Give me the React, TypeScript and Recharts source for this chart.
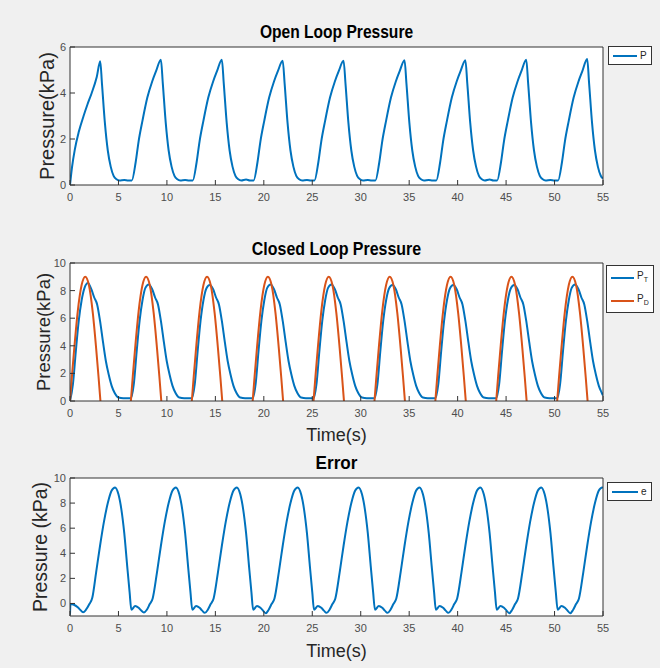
import { Legend, Line, LineChart, XAxis, YAxis, CartesianGrid } from "recharts";

const FONT = '"Liberation Sans", Arial, Helvetica, sans-serif';
const AX = "#333333";
const TICK = "#4d4d4d";
const BLUE = "#0072BD";
const ORANGE = "#D95319";

const xTicks = [0, 5, 10, 15, 20, 25, 30, 35, 40, 45, 50, 55];
const openTicks = [0, 2, 4, 6];
const closedTicks = [0, 2, 4, 6, 8, 10];
const errorTicks = [0, 2, 4, 6, 8, 10];

// Open loop pressure P
const openTime = [
  0, 0.2, 0.5, 0.9, 1.4, 1.8, 2.24, 2.76, 3.12, 3.3, 3.6, 3.9, 4.2, 4.5, 4.8, 5.1, 5.6, 6.0,
  6.38, 6.78, 7.08, 7.48, 7.98, 8.48, 8.88, 9.38, 9.58, 9.88, 10.18, 10.48, 10.78, 11.08, 11.38, 11.88, 12.28,
  12.67, 13.07, 13.37, 13.77, 14.27, 14.77, 15.17, 15.67, 15.87, 16.17, 16.47, 16.77, 17.07, 17.37, 17.67, 18.17, 18.57,
  18.95, 19.35, 19.65, 20.05, 20.55, 21.05, 21.45, 21.95, 22.15, 22.45, 22.75, 23.05, 23.35, 23.65, 23.95, 24.45, 24.85,
  25.23, 25.63, 25.93, 26.33, 26.83, 27.33, 27.73, 28.23, 28.43, 28.73, 29.03, 29.33, 29.63, 29.93, 30.23, 30.73, 31.13,
  31.52, 31.92, 32.22, 32.62, 33.12, 33.62, 34.02, 34.52, 34.72, 35.02, 35.32, 35.62, 35.92, 36.22, 36.52, 37.02, 37.42,
  37.8, 38.2, 38.5, 38.9, 39.4, 39.9, 40.3, 40.8, 41.0, 41.3, 41.6, 41.9, 42.2, 42.5, 42.8, 43.3, 43.7,
  44.08, 44.48, 44.78, 45.18, 45.68, 46.18, 46.58, 47.08, 47.28, 47.58, 47.88, 48.18, 48.48, 48.78, 49.08, 49.58, 49.98,
  50.37, 50.77, 51.07, 51.47, 51.97, 52.47, 52.87, 53.37, 53.57, 53.87, 54.17, 54.47, 54.77, 55.0,
];
const openP = [
  0, 0.75, 1.55, 2.3, 3.0, 3.5, 4.0, 4.7, 5.38, 4.4, 2.7, 1.5, 0.8, 0.4, 0.25, 0.2, 0.22, 0.2,
  0.2, 1.0, 1.9, 2.8, 3.8, 4.5, 4.95, 5.45, 4.4, 2.7, 1.5, 0.8, 0.4, 0.25, 0.2, 0.22, 0.2,
  0.2, 1.0, 1.9, 2.8, 3.8, 4.5, 4.95, 5.45, 4.4, 2.7, 1.5, 0.8, 0.4, 0.25, 0.2, 0.24, 0.2,
  0.2, 1.0, 1.9, 2.8, 3.8, 4.5, 4.95, 5.4, 4.4, 2.7, 1.5, 0.8, 0.4, 0.25, 0.2, 0.22, 0.2,
  0.2, 1.0, 1.9, 2.8, 3.8, 4.5, 4.95, 5.4, 4.4, 2.7, 1.5, 0.8, 0.4, 0.25, 0.2, 0.22, 0.2,
  0.2, 1.0, 1.9, 2.8, 3.8, 4.5, 4.95, 5.42, 4.4, 2.7, 1.5, 0.8, 0.4, 0.25, 0.2, 0.22, 0.2,
  0.2, 1.0, 1.9, 2.8, 3.8, 4.5, 4.95, 5.42, 4.4, 2.7, 1.5, 0.8, 0.4, 0.25, 0.2, 0.24, 0.2,
  0.2, 1.0, 1.9, 2.8, 3.8, 4.5, 4.95, 5.45, 4.4, 2.7, 1.5, 0.8, 0.4, 0.25, 0.2, 0.22, 0.2,
  0.2, 1.0, 1.9, 2.8, 3.8, 4.5, 4.95, 5.48, 4.4, 2.7, 1.5, 0.8, 0.4, 0.28,
];

// Closed loop: tracked pressure P_T
const ptTime = [
  0, 0.3, 0.6, 0.9, 1.2, 1.5, 1.85, 2.2, 2.5, 2.8, 3.1, 3.4, 3.7, 4.0, 4.3, 4.6, 5.0, 5.5, 6.0,
  6.28, 6.58, 6.88, 7.18, 7.48, 7.78, 8.13, 8.48, 8.78, 9.08, 9.38, 9.68, 9.98, 10.28, 10.58, 10.88, 11.28, 11.78, 12.28,
  12.57, 12.87, 13.17, 13.47, 13.77, 14.07, 14.42, 14.77, 15.07, 15.37, 15.67, 15.97, 16.27, 16.57, 16.87, 17.17, 17.57, 18.07, 18.57,
  18.85, 19.15, 19.45, 19.75, 20.05, 20.35, 20.7, 21.05, 21.35, 21.65, 21.95, 22.25, 22.55, 22.85, 23.15, 23.45, 23.85, 24.35, 24.85,
  25.13, 25.43, 25.73, 26.03, 26.33, 26.63, 26.98, 27.33, 27.63, 27.93, 28.23, 28.53, 28.83, 29.13, 29.43, 29.73, 30.13, 30.63, 31.13,
  31.42, 31.72, 32.02, 32.32, 32.62, 32.92, 33.27, 33.62, 33.92, 34.22, 34.52, 34.82, 35.12, 35.42, 35.72, 36.02, 36.42, 36.92, 37.42,
  37.7, 38.0, 38.3, 38.6, 38.9, 39.2, 39.55, 39.9, 40.2, 40.5, 40.8, 41.1, 41.4, 41.7, 42.0, 42.3, 42.7, 43.2, 43.7,
  43.98, 44.28, 44.58, 44.88, 45.18, 45.48, 45.83, 46.18, 46.48, 46.78, 47.08, 47.38, 47.68, 47.98, 48.28, 48.58, 48.98, 49.48, 49.98,
  50.27, 50.57, 50.87, 51.17, 51.47, 51.77, 52.12, 52.47, 52.77, 53.07, 53.37, 53.67, 53.97, 54.27, 54.57, 54.87, 55.0,
];
const ptValue = [
  0, 1.2, 3.6, 5.8, 7.3, 8.2, 8.55, 8.1, 7.5, 7.0, 5.8, 4.3, 2.9, 1.9, 1.1, 0.6, 0.25, 0.2, 0.2,
  0.2, 1.2, 3.6, 5.8, 7.3, 8.2, 8.45, 8.1, 7.5, 7.0, 5.8, 4.3, 2.9, 1.9, 1.1, 0.6, 0.25, 0.2, 0.2,
  0.2, 1.2, 3.6, 5.8, 7.3, 8.15, 8.4, 8.1, 7.5, 7.0, 5.8, 4.3, 2.9, 1.9, 1.1, 0.6, 0.25, 0.2, 0.2,
  0.2, 1.2, 3.6, 5.8, 7.3, 8.2, 8.45, 8.1, 7.5, 7.0, 5.8, 4.3, 2.9, 1.9, 1.1, 0.6, 0.25, 0.2, 0.2,
  0.2, 1.2, 3.6, 5.8, 7.3, 8.2, 8.45, 8.1, 7.5, 7.0, 5.8, 4.3, 2.9, 1.9, 1.1, 0.6, 0.25, 0.2, 0.2,
  0.2, 1.2, 3.6, 5.8, 7.3, 8.15, 8.4, 8.1, 7.5, 7.0, 5.8, 4.3, 2.9, 1.9, 1.1, 0.6, 0.25, 0.2, 0.2,
  0.2, 1.2, 3.6, 5.8, 7.3, 8.15, 8.4, 8.1, 7.5, 7.0, 5.8, 4.3, 2.9, 1.9, 1.1, 0.6, 0.25, 0.2, 0.2,
  0.2, 1.2, 3.6, 5.8, 7.3, 8.15, 8.4, 8.1, 7.5, 7.0, 5.8, 4.3, 2.9, 1.9, 1.1, 0.6, 0.25, 0.2, 0.2,
  0.2, 1.2, 3.6, 5.8, 7.3, 8.2, 8.45, 8.1, 7.5, 7.0, 5.8, 4.3, 2.9, 1.9, 1.1, 0.6, 0.4,
];

// Closed loop: desired pressure P_D (null = off)
const pdTime = [
  0, 0.2, 0.45, 0.8, 1.2, 1.57, 1.95, 2.35, 2.7, 2.95, 3.14, 4.7,
  6.28, 6.48, 6.73, 7.08, 7.48, 7.85, 8.23, 8.63, 8.98, 9.23, 9.42, 11.0,
  12.57, 12.77, 13.02, 13.37, 13.77, 14.14, 14.52, 14.92, 15.27, 15.52, 15.71, 17.3,
  18.85, 19.05, 19.3, 19.65, 20.05, 20.42, 20.8, 21.2, 21.55, 21.8, 21.99, 23.6,
  25.13, 25.33, 25.58, 25.93, 26.33, 26.7, 27.08, 27.48, 27.83, 28.08, 28.27, 29.9,
  31.42, 31.62, 31.87, 32.22, 32.62, 32.99, 33.37, 33.77, 34.12, 34.37, 34.56, 36.1,
  37.7, 37.9, 38.15, 38.5, 38.9, 39.27, 39.65, 40.05, 40.4, 40.65, 40.84, 42.4,
  43.98, 44.18, 44.43, 44.78, 45.18, 45.55, 45.93, 46.33, 46.68, 46.93, 47.12, 48.7,
  50.27, 50.47, 50.72, 51.07, 51.47, 51.84, 52.22, 52.62, 52.97, 53.22, 53.41,
];
const pdValue = [
  0, 1.8, 3.9, 6.5, 8.4, 9.0, 8.4, 6.4, 3.8, 1.7, 0, null,
  0, 1.8, 3.9, 6.5, 8.4, 9.0, 8.4, 6.4, 3.8, 1.7, 0, null,
  0, 1.8, 3.9, 6.5, 8.4, 9.0, 8.4, 6.4, 3.8, 1.7, 0, null,
  0, 1.8, 3.9, 6.5, 8.4, 9.0, 8.4, 6.4, 3.8, 1.7, 0, null,
  0, 1.8, 3.9, 6.5, 8.4, 9.0, 8.4, 6.4, 3.8, 1.7, 0, null,
  0, 1.8, 3.9, 6.5, 8.4, 9.0, 8.4, 6.4, 3.8, 1.7, 0, null,
  0, 1.8, 3.9, 6.5, 8.4, 9.0, 8.4, 6.4, 3.8, 1.7, 0, null,
  0, 1.8, 3.9, 6.5, 8.4, 9.0, 8.4, 6.4, 3.8, 1.7, 0, null,
  0, 1.8, 3.9, 6.5, 8.4, 9.0, 8.4, 6.4, 3.8, 1.7, 0,
];

// Error e
const errTime = [
  0, 0.05, 0.4, 0.8, 1.05, 1.35, 1.65, 2.0, 2.3, 2.7, 3.1, 3.5, 3.9, 4.3, 4.65, 5.0, 5.3, 5.6, 5.9, 6.15,
  6.33, 6.73, 7.08, 7.33, 7.63, 7.93, 8.23, 8.53, 8.98, 9.38, 9.78, 10.18, 10.58, 10.93, 11.28, 11.58, 11.88, 12.18, 12.43,
  12.62, 13.02, 13.37, 13.62, 13.92, 14.22, 14.52, 14.82, 15.27, 15.67, 16.07, 16.47, 16.87, 17.22, 17.57, 17.87, 18.17, 18.47, 18.72,
  18.9, 19.3, 19.65, 19.9, 20.2, 20.5, 20.8, 21.1, 21.55, 21.95, 22.35, 22.75, 23.15, 23.5, 23.85, 24.15, 24.45, 24.75, 25.0,
  25.18, 25.58, 25.93, 26.18, 26.48, 26.78, 27.08, 27.38, 27.83, 28.23, 28.63, 29.03, 29.43, 29.78, 30.13, 30.43, 30.73, 31.03, 31.28,
  31.47, 31.87, 32.22, 32.47, 32.77, 33.07, 33.37, 33.67, 34.12, 34.52, 34.92, 35.32, 35.72, 36.07, 36.42, 36.72, 37.02, 37.32, 37.57,
  37.75, 38.15, 38.5, 38.75, 39.05, 39.35, 39.65, 39.95, 40.4, 40.8, 41.2, 41.6, 42.0, 42.35, 42.7, 43.0, 43.3, 43.6, 43.85,
  44.03, 44.43, 44.78, 45.03, 45.33, 45.63, 45.93, 46.23, 46.68, 47.08, 47.48, 47.88, 48.28, 48.63, 48.98, 49.28, 49.58, 49.88, 50.13,
  50.32, 50.72, 51.07, 51.32, 51.62, 51.92, 52.22, 52.52, 52.97, 53.37, 53.77, 54.17, 54.57, 54.92, 55.0,
];
const errValue = [
  -0.9, -0.05, -0.1, -0.3, -0.5, -0.7, -0.5, -0.05, 0.45, 2.5, 4.6, 6.5, 8.0, 9.0, 9.25, 8.7, 7.5, 5.6, 3.0, 0.9,
  -0.5, -0.2, -0.35, -0.55, -0.72, -0.5, -0.05, 0.4, 2.5, 4.6, 6.5, 8.0, 9.0, 9.25, 8.7, 7.5, 5.6, 3.0, 0.9,
  -0.5, -0.2, -0.35, -0.55, -0.75, -0.5, -0.05, 0.4, 2.5, 4.6, 6.5, 8.0, 9.0, 9.25, 8.7, 7.5, 5.6, 3.0, 0.9,
  -0.5, -0.2, -0.35, -0.55, -0.78, -0.5, -0.05, 0.4, 2.5, 4.6, 6.5, 8.0, 9.0, 9.25, 8.7, 7.5, 5.6, 3.0, 0.9,
  -0.5, -0.2, -0.35, -0.55, -0.75, -0.5, -0.05, 0.4, 2.5, 4.6, 6.5, 8.0, 9.0, 9.25, 8.7, 7.5, 5.6, 3.0, 0.9,
  -0.5, -0.2, -0.35, -0.55, -0.75, -0.5, -0.05, 0.4, 2.5, 4.6, 6.5, 8.0, 9.0, 9.25, 8.7, 7.5, 5.6, 3.0, 0.9,
  -0.5, -0.2, -0.35, -0.55, -0.75, -0.5, -0.05, 0.4, 2.5, 4.6, 6.5, 8.0, 9.0, 9.25, 8.7, 7.5, 5.6, 3.0, 0.9,
  -0.5, -0.2, -0.35, -0.55, -0.78, -0.5, -0.05, 0.4, 2.5, 4.6, 6.5, 8.0, 9.0, 9.25, 8.7, 7.5, 5.6, 3.0, 0.9,
  -0.5, -0.2, -0.35, -0.55, -0.78, -0.5, -0.05, 0.4, 2.5, 4.6, 6.5, 8.0, 9.0, 9.25, 9.2,
];

const rows = (t: number[], v: (number | null)[]) => t.map((x, i) => ({ t: x, v: v[i] }));

type SeriesDef = { name: string; color: string; data: { t: number; v: number | null }[] };

const openSeries: SeriesDef[] = [{ name: "P", color: BLUE, data: rows(openTime, openP) }];
const closedSeries: SeriesDef[] = [
  { name: "P_T", color: BLUE, data: rows(ptTime, ptValue) },
  { name: "P_D", color: ORANGE, data: rows(pdTime, pdValue) },
];
const errorSeries: SeriesDef[] = [{ name: "e", color: BLUE, data: rows(errTime, errValue) }];

function LegendBox({ payload, order, rowH, lineW }: { payload?: any[]; order: string[]; rowH: number; lineW: number }) {
  const items = [...(payload || [])].sort((a, b) => order.indexOf(String(a.value)) - order.indexOf(String(b.value)));
  return (
    <div style={{ border: `1px solid ${AX}`, background: "#fff", padding: "0 4px 0 4px", fontFamily: FONT }}>
      {items.map((p) => {
        const [main, sub] = String(p.value).split("_");
        return (
          <div key={p.value} style={{ display: "flex", alignItems: "center", height: rowH }}>
            <span style={{ display: "inline-block", width: lineW, height: 2, background: p.color }} />
            <span style={{ fontSize: 10, color: "#262626", marginLeft: 3, lineHeight: "10px" }}>
              {main}
              {sub && <sub style={{ fontSize: 7 }}>{sub}</sub>}
            </span>
          </div>
        );
      })}
    </div>
  );
}

type PanelProps = {
  top: number;
  height: number;
  mTop: number;
  mLeft: number;
  yWidth: number;
  xHeight: number;
  yDomain: [number, number];
  yTicks: number[];
  yLabel: string;
  yLabelSize: number;
  xLabel?: string;
  xLabelOffset?: number;
  series: SeriesDef[];
  legendLeft: number;
  legendTop: number;
  rowH: number;
  lineW: number;
};

function Panel(p: PanelProps) {
  const tickStyle = { fontSize: 11, fill: TICK, fontFamily: FONT };
  return (
    <div style={{ position: "absolute", left: 0, top: p.top }}>
      <LineChart
        width={660}
        height={p.height}
        margin={{ top: p.mTop, right: 56, bottom: p.height - p.mTop - 1 - 138 - p.xHeight, left: p.mLeft }}
      >
        <CartesianGrid fill="#ffffff" horizontal={false} vertical={false} />
        <XAxis
          type="number"
          dataKey="t"
          domain={[0, 55]}
          ticks={xTicks}
          interval={0}
          allowDataOverflow
          tickSize={-5}
          tickMargin={13}
          height={p.xHeight}
          stroke={AX}
          tick={tickStyle}
          label={
            p.xLabel
              ? { value: p.xLabel, position: "insideBottom", offset: p.xLabelOffset, fill: "#262626", fontSize: 18, fontFamily: FONT }
              : undefined
          }
        />
        <XAxis
          xAxisId="top"
          orientation="top"
          type="number"
          domain={[0, 55]}
          ticks={xTicks}
          interval={0}
          tickSize={-5}
          height={1}
          stroke={AX}
          tickFormatter={() => ""}
        />
        <YAxis
          type="number"
          domain={p.yDomain}
          ticks={p.yTicks}
          interval={0}
          allowDataOverflow
          tickSize={-5}
          tickMargin={9}
          width={p.yWidth}
          stroke={AX}
          tick={tickStyle}
          label={{ value: p.yLabel, angle: -90, position: "center", fill: "#262626", fontSize: p.yLabelSize, fontFamily: FONT }}
        />
        <YAxis
          yAxisId="right"
          orientation="right"
          type="number"
          domain={p.yDomain}
          ticks={p.yTicks}
          interval={0}
          tickSize={-5}
          width={1}
          stroke={AX}
          tickFormatter={() => ""}
        />
        <Legend
          layout="horizontal"
          align="center"
          verticalAlign="middle"
          wrapperStyle={{ left: p.legendLeft, top: p.legendTop, width: "auto", height: "auto" }}
          content={(props: any) => (
            <LegendBox payload={props.payload} order={p.series.map((s) => s.name)} rowH={p.rowH} lineW={p.lineW} />
          )}
        />
        {p.series.map((s) => (
          <Line
            key={s.name}
            data={s.data}
            dataKey="v"
            name={s.name}
            type="monotone"
            stroke={s.color}
            strokeWidth={2}
            dot={false}
            connectNulls={false}
            isAnimationActive={false}
          />
        ))}
      </LineChart>
    </div>
  );
}

const titleStyle = (top: number, sx: number): React.CSSProperties => ({
  position: "absolute",
  left: 70,
  width: 533,
  top,
  textAlign: "center",
  fontFamily: FONT,
  fontWeight: "bold",
  fontSize: 19,
  lineHeight: "20px",
  color: "#000",
  transform: `scaleX(${sx})`,
  transformOrigin: "center",
});

export default function App() {
  return (
    <div style={{ position: "absolute", left: 0, top: 0, width: 660, height: 668, background: "#f0f0f0", overflow: "hidden" }}>
      <Panel
        top={20}
        height={190}
        mTop={26}
        mLeft={24}
        yWidth={46}
        xHeight={20}
        yDomain={[0, 6]}
        yTicks={openTicks}
        yLabel="Pressure(kPa)"
        yLabelSize={20}
        series={openSeries}
        legendLeft={608}
        legendTop={26}
        rowH={17}
        lineW={24}
      />
      <Panel
        top={230}
        height={227}
        mTop={32}
        mLeft={16}
        yWidth={54}
        xHeight={50}
        yDomain={[0, 10]}
        yTicks={closedTicks}
        yLabel="Pressure(kPa)"
        yLabelSize={18.5}
        xLabel="Time(s)"
        xLabelOffset={10}
        series={closedSeries}
        legendLeft={606}
        legendTop={35}
        rowH={23}
        lineW={23}
      />
      <Panel
        top={450}
        height={218}
        mTop={27}
        mLeft={10}
        yWidth={60}
        xHeight={50}
        yDomain={[-1, 10]}
        yTicks={errorTicks}
        yLabel="Pressure (kPa)"
        yLabelSize={19.5}
        xLabel="Time(s)"
        xLabelOffset={9}
        series={errorSeries}
        legendLeft={607}
        legendTop={32}
        rowH={17}
        lineW={26}
      />
      <div style={titleStyle(22, 0.82)}>Open Loop Pressure</div>
      <div style={titleStyle(239, 0.84)}>Closed Loop Pressure</div>
      <div style={titleStyle(453, 0.9)}>Error</div>
    </div>
  );
}
